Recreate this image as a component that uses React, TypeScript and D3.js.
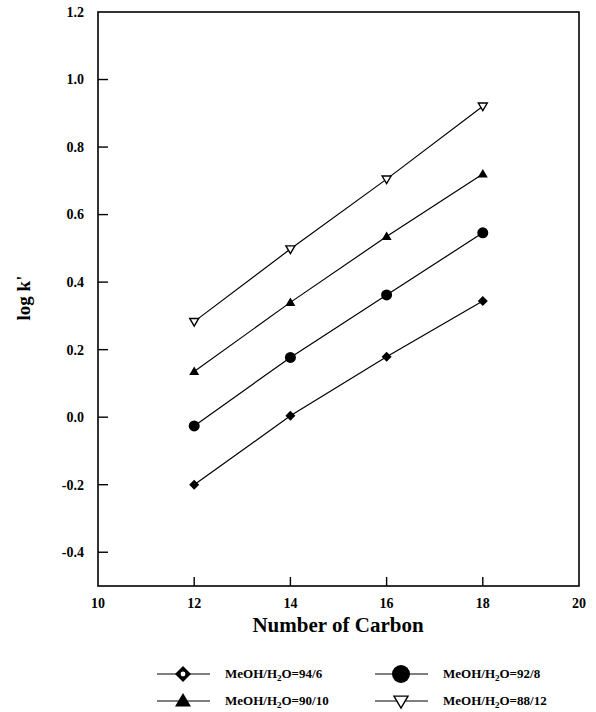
import React, { useEffect, useRef } from 'react';
import * as d3 from 'd3';

// carbon numbers
const carbons = [12, 14, 16, 18];

// log k' values for each mobile phase
const s94_6 = [-0.2, 0.004, 0.179, 0.344];
const s92_8 = [-0.026, 0.177, 0.362, 0.546];
const s90_10 = [0.135, 0.34, 0.535, 0.72];
const s88_12 = [0.283, 0.498, 0.705, 0.921];

const seriesNames = ['94/6', '92/8', '90/10', '88/12'];
const seriesMarkers = ['diamond', 'circle', 'triangle', 'triangleDown'];

const xTicks = [10, 12, 14, 16, 18, 20];
const yTicks = [-0.4, -0.2, 0.0, 0.2, 0.4, 0.6, 0.8, 1.0, 1.2];

const FONT = '"Liberation Serif", "Times New Roman", serif';

const drawMarker = (g, type, cx, cy, size, legend) => {
  if (type === 'diamond') {
    const s = size;
    g.append('path')
      .attr('d', `M${cx},${cy - s}L${cx + s},${cy}L${cx},${cy + s}L${cx - s},${cy}Z`)
      .attr('fill', '#000');
    if (legend) {
      g.append('circle').attr('cx', cx).attr('cy', cy).attr('r', s * 0.3).attr('fill', '#fff');
    }
  } else if (type === 'circle') {
    g.append('circle').attr('cx', cx).attr('cy', cy).attr('r', size).attr('fill', '#000');
  } else if (type === 'triangle') {
    const s = size;
    g.append('path')
      .attr('d', `M${cx},${cy - s}L${cx + s},${cy + s * 0.7}L${cx - s},${cy + s * 0.7}Z`)
      .attr('fill', '#000');
  } else {
    const s = size;
    g.append('path')
      .attr('d', `M${cx - s},${cy - s * 0.7}L${cx + s},${cy - s * 0.7}L${cx},${cy + s}Z`)
      .attr('fill', '#fff')
      .attr('stroke', '#000')
      .attr('stroke-width', 1.4);
  }
};

const App = () => {
  const chartRef = useRef(null);

  useEffect(() => {
    const svg = d3.select(chartRef.current);
    svg.selectAll('*').remove();

    const left = 98, right = 579, top = 12, bottom = 586;

    const x = d3.scaleLinear().domain([10, 20]).range([left, right]);
    const y = d3.scaleLinear().domain([-0.5, 1.2]).range([bottom, top]);

    // frame
    svg.append('rect')
      .attr('x', left).attr('y', top)
      .attr('width', right - left).attr('height', bottom - top)
      .attr('fill', 'none').attr('stroke', '#000').attr('stroke-width', 1.6);

    // y ticks (inward), hyphen as minus like the original
    const fmt = t => d3.format('.1f')(t).replace('\u2212', '-');
    yTicks.forEach(t => {
      if (t < 1.1) {
        svg.append('line')
          .attr('x1', left).attr('x2', left + 10)
          .attr('y1', y(t)).attr('y2', y(t))
          .attr('stroke', '#000').attr('stroke-width', 1.4);
      }
      svg.append('text')
        .attr('x', 84).attr('y', y(t))
        .attr('dy', '0.35em')
        .attr('text-anchor', 'end')
        .style('font-family', FONT).style('font-weight', 'bold').style('font-size', '14px')
        .text(fmt(t));
    });

    // x ticks (inward)
    xTicks.forEach(t => {
      if (t > 10 && t < 20) {
        svg.append('line')
          .attr('x1', x(t)).attr('x2', x(t))
          .attr('y1', bottom).attr('y2', bottom - 9)
          .attr('stroke', '#000').attr('stroke-width', 1.4);
      }
      svg.append('text')
        .attr('x', x(t)).attr('y', 608)
        .attr('text-anchor', 'middle')
        .style('font-family', FONT).style('font-weight', 'bold').style('font-size', '14px')
        .text(t);
    });

    // axis titles
    svg.append('text')
      .attr('x', 338).attr('y', 632)
      .attr('text-anchor', 'middle')
      .style('font-family', FONT).style('font-weight', 'bold').style('font-size', '21px')
      .text('Number of Carbon');

    svg.append('text')
      .attr('transform', 'translate(30,298) rotate(-90)')
      .attr('text-anchor', 'middle')
      .style('font-family', FONT).style('font-weight', 'bold').style('font-size', '19px')
      .text("log k'");

    const allSeries = [s94_6, s92_8, s90_10, s88_12];
    const line = d3.line()
      .x((d, i) => x(carbons[i]))
      .y(d => y(d));

    allSeries.forEach((vals, si) => {
      svg.append('path')
        .datum(vals)
        .attr('fill', 'none')
        .attr('stroke', '#000')
        .attr('stroke-width', 1.2)
        .attr('d', line);
      const g = svg.append('g');
      vals.forEach((v, i) => {
        const m = seriesMarkers[si];
        const size = m === 'circle' ? 5.5 : m === 'triangleDown' ? 4.5 : 5;
        drawMarker(g, m, x(carbons[i]), y(v), size, false);
      });
    });

    // legend
    const legendPos = [[157, 674], [375, 674], [157, 701], [375, 701]];
    const legendSizes = [8, 9, 8, 7];
    seriesNames.forEach((name, i) => {
      const [lx, ly] = legendPos[i];
      svg.append('line')
        .attr('x1', lx).attr('x2', lx + 53)
        .attr('y1', ly).attr('y2', ly)
        .attr('stroke', '#000').attr('stroke-width', 1.2);
      drawMarker(svg.append('g'), seriesMarkers[i], lx + 26, ly, legendSizes[i], true);
      const t = svg.append('text')
        .attr('x', lx + 68).attr('y', ly + 4)
        .style('font-family', FONT).style('font-weight', 'bold').style('font-size', '13px');
      t.append('tspan').text('MeOH/H');
      t.append('tspan').attr('dy', 3).style('font-size', '9px').text('2');
      t.append('tspan').attr('dy', -3).text('O=' + name);
    });
  }, []);

  return (
    <svg ref={chartRef} width={596} height={712}
      style={{ position: 'absolute', left: 0, top: 0, background: '#fff' }}></svg>
  );
};

export default App;
